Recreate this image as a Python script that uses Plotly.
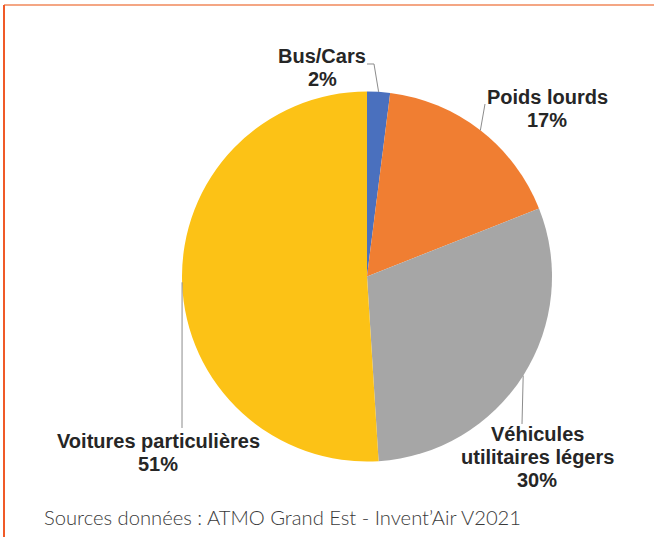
import math
import plotly.graph_objects as go

W, H = 654, 537

categories = ["Bus/Cars", "Poids lourds", "Véhicules utilitaires légers", "Voitures particulières"]
values = [2, 17, 30, 51]
label_lines = [["Bus/Cars", "2%"], ["Poids lourds", "17%"],
               ["Véhicules", "utilitaires légers", "30%"],
               ["Voitures particulières", "51%"]]
colors = ["#4a70be", "#f07e32", "#a6a6a6", "#fcc216"]
source_text = "Sources données : ATMO Grand Est - Invent\u2019Air V2021"

# pie geometry in pixels
cx, cy, r = 367, 276.5, 185

def px(x):
    return x / W

def py(y):
    return 1 - y / H

fig = go.Figure(go.Pie(
    labels=categories, values=values, sort=False, direction="clockwise", rotation=0,
    marker=dict(colors=colors, line=dict(width=0)),
    textinfo="none", hoverinfo="label+percent", showlegend=False,
    domain=dict(x=[px(cx - r), px(cx + r)], y=[py(cy + r), py(cy - r)]),
))

# label first-line centres and leader-line paths (pixels) after the slice midpoint
label_pos = [(322, 56), (547, 97), (537, 434), (158, 441)]
line_step = 23
leader_tail = [[(374, 64), (367, 64)], [(485, 104)], [(522, 424)], [(182, 428)]]

total = sum(values)
cum = 0
shapes = []
annotations = []
for i, v in enumerate(values):
    mid = (cum + v / 2) / total * 2 * math.pi
    cum += v
    sx = cx + r * math.sin(mid)
    sy = cy - r * math.cos(mid)
    pts = [(sx, sy)] + leader_tail[i]
    path = "M " + " L ".join(f"{px(a):.5f},{py(b):.5f}" for a, b in pts)
    shapes.append(dict(type="path", path=path, xref="paper", yref="paper",
                       line=dict(color="#8c8c8c", width=1)))
    lx, ly = label_pos[i]
    for k, t in enumerate(label_lines[i]):
        annotations.append(dict(x=px(lx), y=py(ly + k * line_step), xref="paper", yref="paper",
                                text=f"<b>{t}</b>", showarrow=False,
                                xanchor="center", yanchor="middle", align="center",
                                font=dict(family="Liberation Sans, Arial", size=20, color="#262626")))

annotations.append(dict(x=px(42), y=py(517), xref="paper", yref="paper", text=source_text,
                        showarrow=False, xanchor="left", yanchor="middle",
                        font=dict(family="Lato, Open Sans", size=20.2, color="#3a3a3a", weight=300)))

# frame lines
shapes.append(dict(type="line", xref="paper", yref="paper", x0=px(4), x1=1, y0=py(5), y1=py(5),
                   line=dict(color="#f4a684", width=2)))
shapes.append(dict(type="line", xref="paper", yref="paper", x0=px(4), x1=px(4), y0=py(5), y1=0,
                   line=dict(color="#f05a28", width=2)))

fig.update_layout(width=W, height=H, margin=dict(l=0, r=0, t=0, b=0),
                  paper_bgcolor="white", plot_bgcolor="white",
                  shapes=shapes, annotations=annotations)

fig.write_html("out.html", config={"displayModeBar": False},
               post_script="document.body.style.margin='0';document.body.style.overflow='hidden';")
